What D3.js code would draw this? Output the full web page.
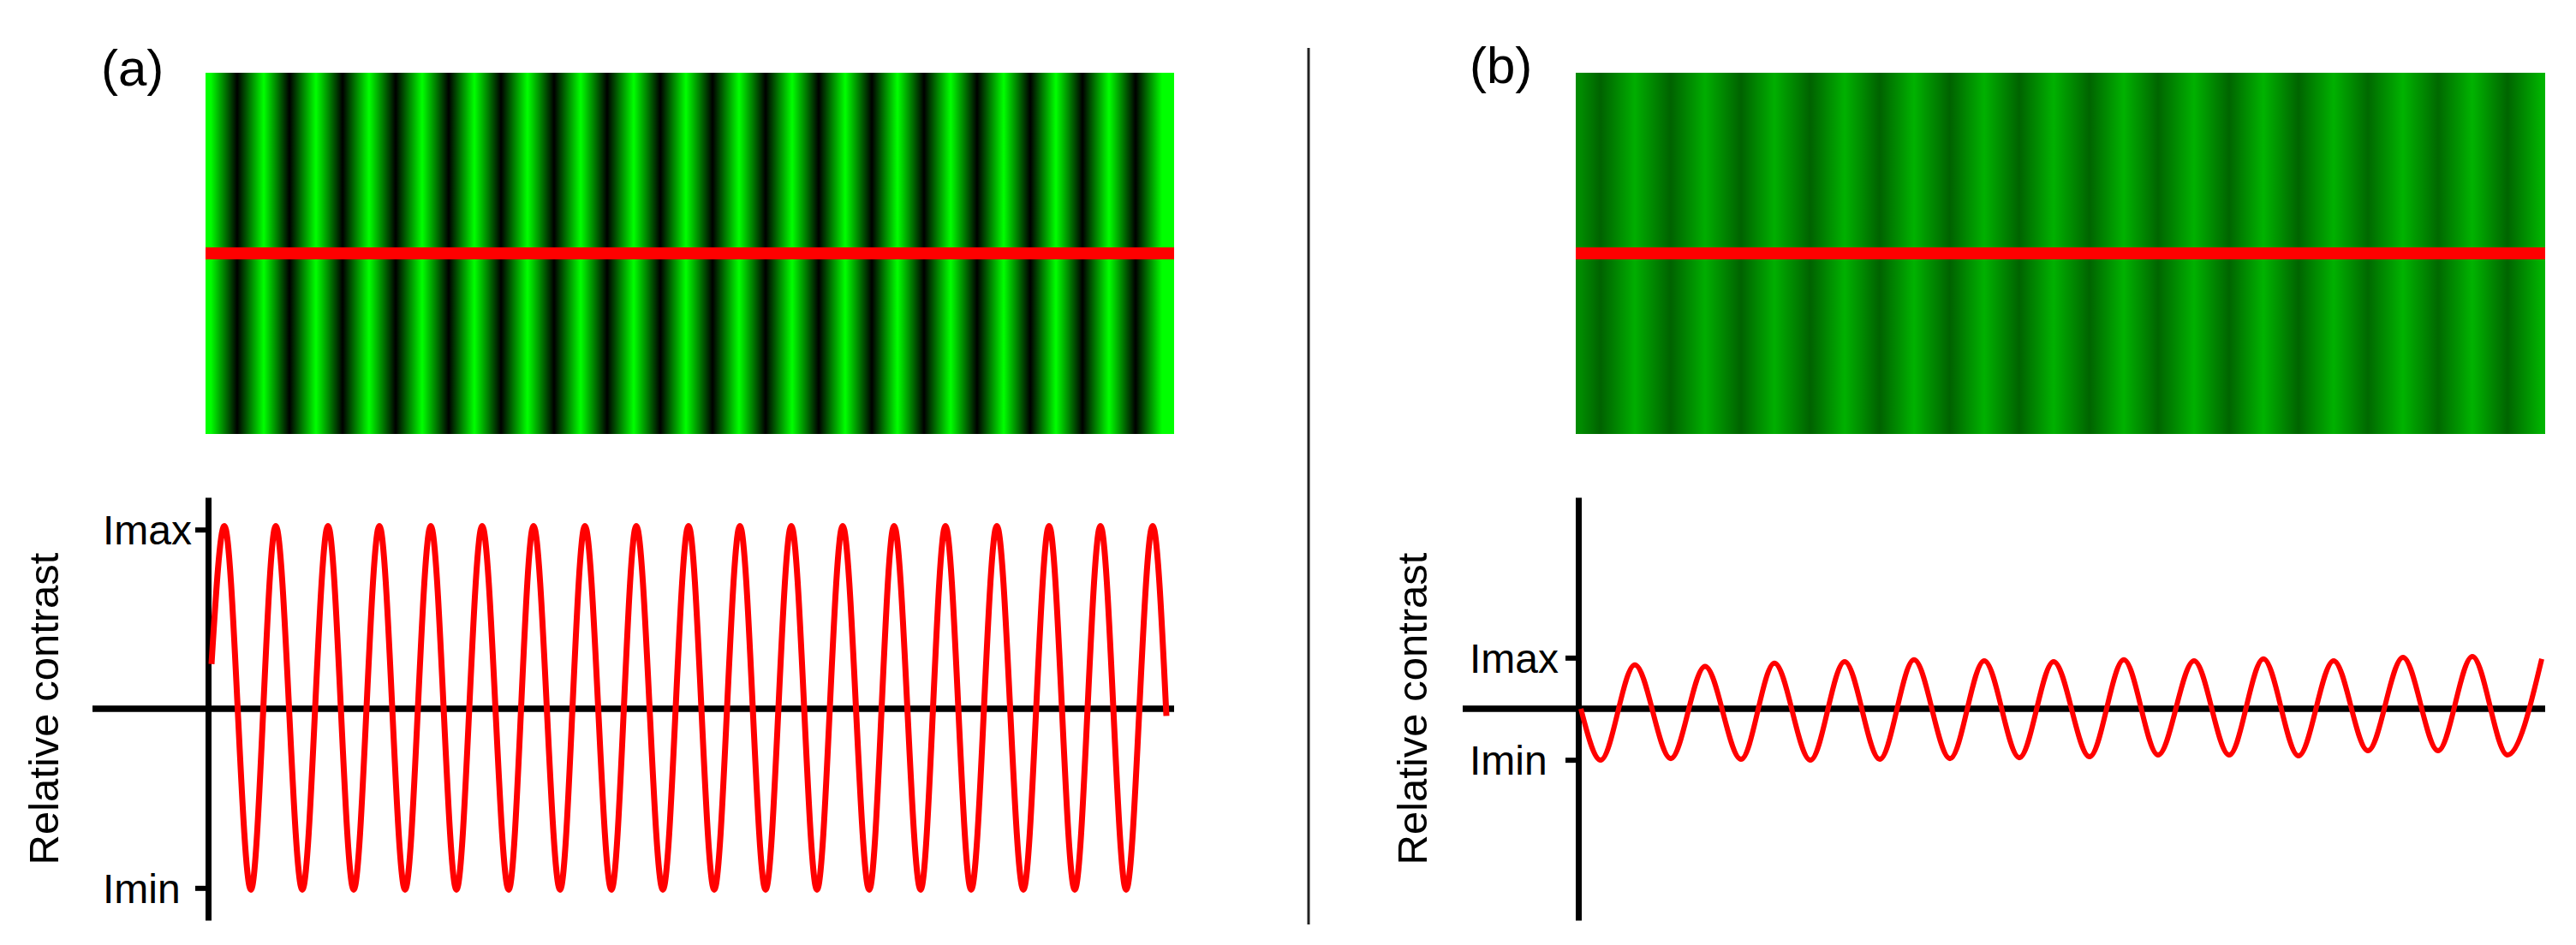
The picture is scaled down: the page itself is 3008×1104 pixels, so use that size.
<!DOCTYPE html>
<html>
<head>
<meta charset="utf-8">
<script src="https://cdn.jsdelivr.net/npm/d3@7"></script>
<style>
  body { margin: 0; background: #fff; }
  svg text { font-family: "Liberation Sans", Arial, sans-serif; fill: #000; }
</style>
</head>
<body>
<div id="figure"></div>
<script>
// stripe centres in sample image (a), in image pixels from its left edge
let stripe_a_bright = [6, 68, 129, 191, 253, 314, 376, 438, 500, 561, 623, 685, 747, 808, 870, 932, 993, 1055, 1117];
let stripe_a_dark = [37, 98, 160, 222, 284, 345, 407, 469, 531, 592, 654, 716, 778, 839, 901, 963, 1024, 1086];

// line profile (a): start, peaks / troughs, end
let profile_a_pos = [7, 22, 53, 82, 113, 143, 173, 203, 233, 263, 293, 323, 354, 383, 414, 443, 474, 503, 534, 564,
                     594, 624, 654, 684, 714, 744, 775, 804, 835, 864, 894, 924, 955, 985, 1015, 1045, 1075, 1106, 1122];
let profile_a_val = [0.25, 1.02, -1.01, 1.02, -1.01, 1.02, -1.01, 1.02, -1.01, 1.02, -1.01, 1.02, -1.01, 1.02, -1.01,
                     1.02, -1.01, 1.02, -1.01, 1.02, -1.01, 1.02, -1.01, 1.02, -1.01, 1.02, -1.01, 1.02, -1.01, 1.02,
                     -1.01, 1.02, -1.01, 1.02, -1.01, 1.02, -1.01, 1.02, -0.04];

// line profile (b): start, troughs / peaks, end (the image stripes follow it too)
let profile_b_pos = [6, 29, 69, 111, 151, 193, 232, 274, 314, 355, 395, 437, 477, 518, 558, 600, 640, 680, 722, 763,
                     803, 844, 885, 925, 966, 1007, 1047, 1088, 1128];
let profile_b_val = [0, -0.287, 0.245, -0.278, 0.237, -0.282, 0.254, -0.287, 0.263, -0.282, 0.273, -0.278, 0.268, -0.273,
                     0.263, -0.268, 0.273, -0.258, 0.268, -0.258, 0.278, -0.263, 0.268, -0.234, 0.287, -0.234, 0.292,
                     -0.258, 0.278];

let tick_labels = ["Imin", "Imax"];
let ticks_a = [-1, 1];
let ticks_b = [-0.285, 0.285];
let axis_title = "Relative contrast";

class ContrastPanel {
    constructor(svg, opts) {
        this.svg = svg;
        this.opts = opts;
        this.g = svg.append("g").attr("id", "panel_" + opts.name);
        this.xScale = d3.scaleLinear().domain([0, opts.img_w]).range([opts.left, opts.left + opts.width]);
        this.yScale = d3.scaleLinear().domain([-1.18, 1.18]).range([1075, 581]);

        this.setup_tag();
        this.setup_image();
        this.setup_plot();
    }

    setup_tag() {
        this.g.append("text")
            .attr("x", this.opts.tag_x)
            .attr("y", this.opts.tag_y)
            .style("font-size", "60px")
            .text("(" + this.opts.name + ")");
    }

    setup_image() {
        let o = this.opts;
        let x = this.xScale;
        let id = "grad_" + o.name;

        // extra stops between the stripe centres so the bands look smooth
        let stops = [];
        for (let i = 0; i < o.stripes.length - 1; i++) {
            let s0 = o.stripes[i], s1 = o.stripes[i + 1];
            let interp = d3.interpolateRgb.gamma(o.gamma)(s0.color, s1.color);
            for (let k = 0; k < 6; k++) {
                let t = k / 6;
                stops.push({ pos: s0.pos + (s1.pos - s0.pos) * t, color: interp(t) });
            }
        }
        stops.push(o.stripes[o.stripes.length - 1]);

        this.svg.select("defs").append("linearGradient")
            .attr("id", id)
            .attr("gradientUnits", "userSpaceOnUse")
            .attr("x1", x(0)).attr("x2", x(o.img_w))
            .attr("y1", 0).attr("y2", 0)
            .selectAll("stop")
            .data(stops)
            .enter()
            .append("stop")
            .attr("offset", function(d) { return d.pos / o.img_w; })
            .attr("stop-color", function(d) { return d.color; });

        this.g.append("rect")
            .attr("x", x(0))
            .attr("y", 85)
            .attr("width", x(o.img_w) - x(0))
            .attr("height", 422)
            .attr("fill", "url(#" + id + ")");

        // red line where the profile was taken
        this.g.append("rect")
            .attr("x", x(0))
            .attr("y", 289)
            .attr("width", x(o.img_w) - x(0))
            .attr("height", 14)
            .attr("fill", "#ff0000");
    }

    setup_plot() {
        let o = this.opts;
        let x = this.xScale;
        let y = this.yScale;
        let axis_x = x(0) + 3;

        // zero line
        this.g.append("line")
            .attr("x1", axis_x - 135)
            .attr("x2", x(o.img_w))
            .attr("y1", y(0))
            .attr("y2", y(0))
            .attr("stroke", "#000")
            .attr("stroke-width", 7.5);

        let yAxis = d3.axisLeft(y)
            .tickValues(o.ticks)
            .tickFormat(function(d, i) { return tick_labels[i]; })
            .tickSize(15)
            .tickSizeOuter(0);

        let ag = this.g.append("g")
            .attr("transform", "translate(" + axis_x + ",0)")
            .call(yAxis);
        ag.select(".domain").attr("stroke-width", 7);
        ag.selectAll(".tick line").attr("stroke-width", 6);
        ag.selectAll(".tick text")
            .attr("x", o.label_x - axis_x)
            .attr("dy", "0.36em")
            .attr("text-anchor", "start")
            .style("font-size", "48px");

        this.g.append("text")
            .attr("transform", "translate(" + o.title_x + "," + y(0) + ") rotate(-90)")
            .attr("text-anchor", "middle")
            .style("font-size", "49px")
            .text(axis_title);

        let data = o.pos.map(function(p, i) { return { pos: p, val: o.val[i] }; });
        let line = d3.line()
            .x(function(d) { return x(d.pos); })
            .y(function(d) { return y(d.val); })
            .curve(d3.curveMonotoneX);

        this.g.append("path")
            .datum(data)
            .attr("d", line)
            .attr("fill", "none")
            .attr("stroke", "#ff0000")
            .attr("stroke-width", o.line_w);
    }
}

let svg = d3.select("#figure").append("svg")
    .attr("width", 3008)
    .attr("height", 1104);
svg.append("defs");

// stripes for (a): bright and dark centres merged
let stripes_a = stripe_a_bright.map(function(p) { return { pos: p, color: "#00ff00" }; })
    .concat(stripe_a_dark.map(function(p) { return { pos: p, color: "#000000" }; }))
    .sort(function(a, b) { return a.pos - b.pos; });

// stripes for (b): coloured from the measured profile
let colour_b = d3.scaleLinear().domain([-0.28, 0.28]).range(["#006200", "#00b300"]).clamp(true);
let stripes_b = profile_b_pos.map(function(p, i) { return { pos: p, color: colour_b(profile_b_val[i]) }; });

let panel_a = new ContrastPanel(svg, {
    name: "a", left: 240, width: 1131, img_w: 1131, stripes: stripes_a, gamma: 1,
    pos: profile_a_pos, val: profile_a_val, ticks: ticks_a, line_w: 7,
    label_x: 120, title_x: 68, tag_x: 118, tag_y: 100
});

let panel_b = new ContrastPanel(svg, {
    name: "b", left: 1840, width: 1132, img_w: 1132, stripes: stripes_b, gamma: 1,
    pos: profile_b_pos, val: profile_b_val, ticks: ticks_b, line_w: 6,
    label_x: 1716, title_x: 1666, tag_x: 1716, tag_y: 97
});

// divider between the two panels
svg.append("line")
    .attr("x1", 1528).attr("x2", 1528)
    .attr("y1", 56).attr("y2", 1080)
    .attr("stroke", "#222")
    .attr("stroke-width", 3);
</script>
</body>
</html>
